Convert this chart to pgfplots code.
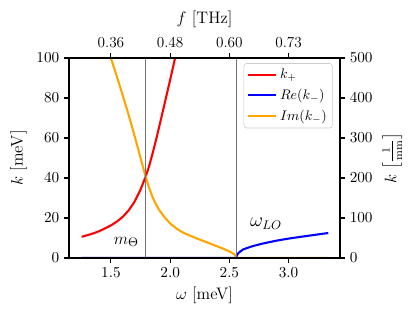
\documentclass[border=0pt]{standalone}
\usepackage{pgfplots}
\pgfplotsset{compat=1.18}
\usepackage{amsmath}
\definecolor{mplorange}{HTML}{FFA500}
\begin{document}
\begin{tikzpicture}
\pgfplotsset{
  common/.style={
    width=195.12pt, height=144pt, scale only axis,
    xmin=1.146, xmax=3.434,
    tick align=outside, major tick length=3.5pt,
    every tick/.style={black, line width=0.8pt},
    axis line style={line width=0.8pt},
    tick label style={font=\fontsize{11}{13}\selectfont},
    label style={font=\fontsize{12}{14}\selectfont},
  }
}
\begin{axis}[common, name=main,
  ymin=0, ymax=100,
  xtick={1.5,2,2.5,3}, xtick pos=lower, ytick pos=left,
  ytick={0,20,40,60,80,100},
  xticklabel style={/pgf/number format/.cd, fixed, fixed zerofill, precision=1},
  xlabel={$\omega$ [meV]}, ylabel={$k$ [meV]},
  legend style={at={(0.973,0.974)}, anchor=north east, draw=black!20, rounded corners=2pt,
    fill=white, fill opacity=0.8, text opacity=1, font=\fontsize{10}{12}\selectfont,
    row sep=2pt, cells={anchor=west}, inner sep=2pt},
  legend image code/.code={\draw[#1] (0cm,0cm) -- (0.72cm,0cm);},
]
% k_+
\addplot[red, line width=1.5pt] coordinates {
(1.253,10.6) (1.30,11.4) (1.35,12.3) (1.40,13.4) (1.45,14.8) (1.50,16.3) (1.55,18.2)
(1.60,20.6) (1.65,23.8) (1.70,28.2) (1.75,34.2) (1.793,40.7) (1.82,45.4) (1.85,51.9)
(1.886,60.3) (1.92,68.8) (1.956,77.9) (2.00,89.1) (2.041,99.8) (2.06,105.0)};
\addlegendentry{$k_+$}
% Re(k_-)
\addplot[blue, line width=1.5pt] coordinates {
(1.253,0) (2.557,0) (2.565,1.5) (2.58,2.7) (2.60,3.6) (2.617,4.3) (2.65,5.0) (2.70,6.0)
(2.787,7.3) (2.90,8.7) (3.00,9.7) (3.068,10.3) (3.20,11.4) (3.335,12.5)};
\addlegendentry{$Re(k_-)$}
% Im(k_-)
\addplot[mplorange, line width=1.5pt] coordinates {
(1.49,101.8) (1.50,100.0) (1.54,92.6) (1.58,85.1) (1.62,77.4) (1.66,69.4) (1.70,61.0)
(1.73,54.5) (1.76,47.8) (1.793,40.7) (1.82,35.6) (1.85,30.7) (1.88,26.8) (1.91,23.8)
(1.95,20.6) (2.00,17.3) (2.05,14.9) (2.10,13.0) (2.15,11.6) (2.20,10.4) (2.25,9.2)
(2.30,8.1) (2.35,6.9) (2.40,5.8) (2.45,4.6) (2.50,3.3) (2.53,2.3) (2.545,1.6)
(2.555,0.7) (2.557,0) (3.335,0)};
\addlegendentry{$Im(k_-)$}
% vertical lines
\addplot[black!55, line width=0.8pt, forget plot] coordinates {(1.793,0) (1.793,100)};
\addplot[black!55, line width=0.8pt, forget plot] coordinates {(2.557,0) (2.557,100)};
\node[font=\fontsize{13}{15}\selectfont] at (axis cs:1.63,8) {$m_\Theta$};
\node[font=\fontsize{13.5}{15}\selectfont] at (axis cs:2.81,17) {$\omega_{LO}$};
\end{axis}
\begin{axis}[common,
  ymin=0, ymax=500,
  xtick={1.5,2,2.5,3}, xticklabels={0.36,0.48,0.60,0.73},
  xtick pos=upper, xticklabel pos=upper,
  ytick={0,100,200,300,400,500},
  ytick pos=right, yticklabel pos=right,
  xlabel={$f$ [THz]},
  ylabel={$k$ $\left[\frac{1}{\mathrm{mm}}\right]$},
]
\end{axis}
\path ([xshift=-49.68pt,yshift=-45.36pt]main.south west) rectangle ([xshift=52.56pt,yshift=41.76pt]main.north east);
\end{tikzpicture}
\end{document}
